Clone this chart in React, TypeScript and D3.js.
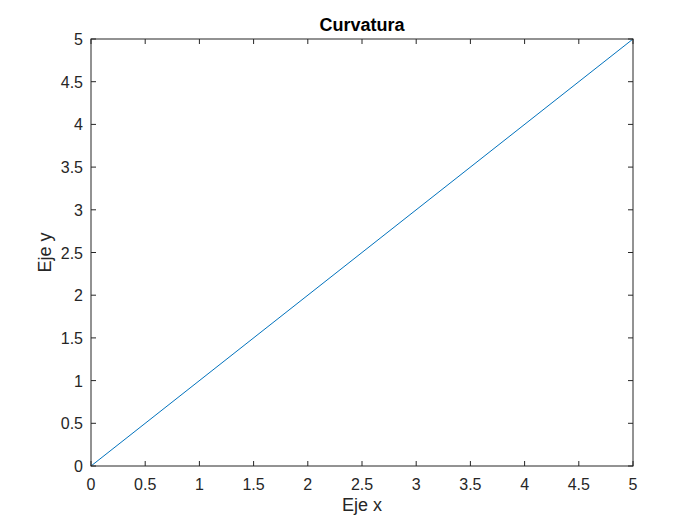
import React from "react";
import * as d3 from "d3";

// data: straight line y = x
const xValues = [0, 5];
const yValues = [0, 5];
const xTicks = [0, 0.5, 1, 1.5, 2, 2.5, 3, 3.5, 4, 4.5, 5];
const yTicks = [0, 0.5, 1, 1.5, 2, 2.5, 3, 3.5, 4, 4.5, 5];

export default function App() {
  const W = 700,
    H = 525;
  const margin = { top: 39, right: 67, bottom: 59, left: 91 };
  const iw = W - margin.left - margin.right;
  const ih = H - margin.top - margin.bottom;

  const x = d3.scaleLinear().domain([0, 5]).range([0, iw]);
  const y = d3.scaleLinear().domain([0, 5]).range([ih, 0]);

  const pts: [number, number][] = xValues.map((v, i) => [v, yValues[i]]);
  const line = d3
    .line<[number, number]>()
    .x((d) => x(d[0]))
    .y((d) => y(d[1]));

  const font = "'Liberation Sans', Arial, sans-serif";
  const tl = 5;

  return (
    <svg
      width={W}
      height={H}
      style={{ position: "absolute", left: 0, top: 0, background: "#fff" }}
      fontFamily={font}
    >
      <rect width={W} height={H} fill="#fff" />
      <g transform={`translate(${margin.left},${margin.top})`}>
        <rect width={iw} height={ih} fill="#fff" />
        <path d={line(pts) || ""} fill="none" stroke="#0072BD" strokeWidth={1} />
        {xTicks.map((t) => (
          <g key={"x" + t}>
            <line x1={x(t)} x2={x(t)} y1={ih} y2={ih - tl} stroke="#262626" />
            <line x1={x(t)} x2={x(t)} y1={0} y2={tl} stroke="#262626" />
            <text x={x(t)} y={ih + 24} textAnchor="middle" fontSize={16} fill="#262626">
              {t}
            </text>
          </g>
        ))}
        {yTicks.map((t) => (
          <g key={"y" + t}>
            <line x1={0} x2={tl} y1={y(t)} y2={y(t)} stroke="#262626" />
            <line x1={iw} x2={iw - tl} y1={y(t)} y2={y(t)} stroke="#262626" />
            <text x={-8} y={y(t) + 6} textAnchor="end" fontSize={16} fill="#262626">
              {t}
            </text>
          </g>
        ))}
        <rect width={iw} height={ih} fill="none" stroke="#262626" strokeWidth={1} />
        <text x={iw / 2} y={-8} textAnchor="middle" fontSize={18} fontWeight="bold" fill="#000">
          Curvatura
        </text>
        <text x={iw / 2} y={ih + 45} textAnchor="middle" fontSize={18} fill="#262626">
          Eje x
        </text>
        <text
          transform={`translate(-40,${ih / 2}) rotate(-90)`}
          textAnchor="middle"
          fontSize={18}
          fill="#262626"
        >
          Eje y
        </text>
      </g>
    </svg>
  );
}
